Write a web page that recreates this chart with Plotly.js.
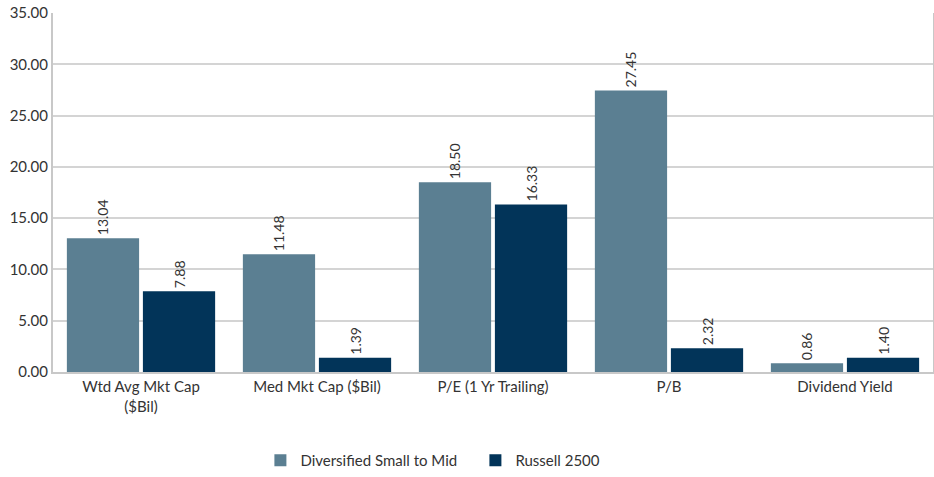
<!DOCTYPE html>
<html><head><meta charset="utf-8">
<script src="https://cdn.plot.ly/plotly-3.0.1.min.js"></script>
<style>html,body{margin:0;padding:0;background:#fff}#chart{width:934px;height:477px}</style>
</head><body><div id="chart"></div>
<script>
const categories = ["Wtd Avg Mkt Cap<br>($Bil)", "Med Mkt Cap ($Bil)", "P/E (1 Yr Trailing)", "P/B", "Dividend Yield"];
const fundName = "Diversified Small to Mid";
const benchName = "Russell 2500";
const fundValues = [13.04, 11.48, 18.50, 27.45, 0.86];
const benchValues = [7.88, 1.39, 16.33, 2.32, 1.40];
const yTicks = [0, 5, 10, 15, 20, 25, 30, 35];

const font = "Lato, 'Open Sans', sans-serif";
function mk(name, vals, color) {
  return {
    type: "bar", name: name, x: categories, y: vals,
    marker: {color: color},
    text: vals.map(v => v.toFixed(2)),
    textposition: "outside", textangle: -90,
    textfont: {family: font, size: 14, color: "#333"},
    cliponaxis: false
  };
}
const data = [mk(fundName, fundValues, "#5b7f92"), mk(benchName, benchValues, "#023459")];
const layout = {
  width: 934, height: 477,
  margin: {l: 53, r: 1, t: 13, b: 105},
  barmode: "group", bargap: 0.136, bargroupgap: 0.05,
  font: {family: font, size: 14, color: "#333"},
  xaxis: {showline: true, linecolor: "#c8c8c8", linewidth: 2, ticks: "", tickfont: {size: 15}, automargin: false},
  yaxis: {range: [0, 35], tickvals: yTicks, ticktext: yTicks.map(v => v.toFixed(2)),
    showgrid: true, gridcolor: "#d4d4d4", gridwidth: 2,
    showline: true, linecolor: "#c8c8c8", linewidth: 2, mirror: true, zeroline: false,
    ticks: "", tickfont: {size: 15}, automargin: false},
  showlegend: true,
  legend: {orientation: "h", x: 0.48, xanchor: "center", yref: "container", y: -0.012, yanchor: "bottom",
    entrywidth: 170, entrywidthmode: "pixels", font: {size: 15}},
  plot_bgcolor: "#fff", paper_bgcolor: "#fff"
};
Plotly.newPlot("chart", data, layout, {displayModeBar: false, staticPlot: true});
</script></body></html>
